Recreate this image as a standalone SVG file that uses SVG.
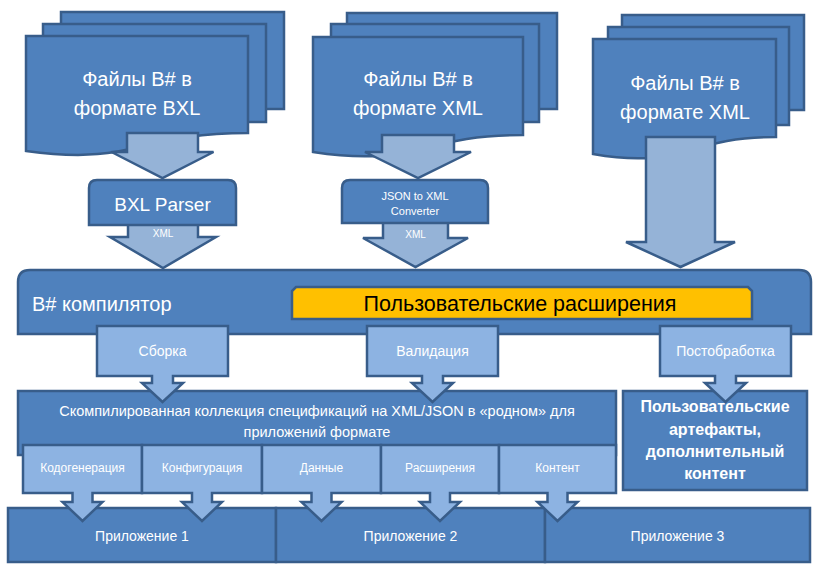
<svg xmlns="http://www.w3.org/2000/svg" width="822" height="576" viewBox="0 0 822 576">
<style>
.dk{fill:#4F81BD;stroke:#385D8A;stroke-width:2.5;stroke-linejoin:miter}
.ar{fill:#95B3D7;stroke:#385D8A;stroke-width:2.5;stroke-linejoin:miter}
.cl{fill:#8DB3E2;stroke:#385D8A;stroke-width:2.5;stroke-linejoin:miter}
.yl{fill:#FFC000;stroke:#385D8A;stroke-width:2.5}
text{font-family:"Liberation Sans",Arial,sans-serif;text-anchor:middle;fill:#fff}
.big{font-size:20px}
.sm{font-size:10px}
.cv{font-size:11px}
.lb{font-size:14px}
.sb{font-size:12px}
.ap{font-size:14px}
</style>
<rect width="822" height="576" fill="#fff"/>
<g id="docs-bxl">
<rect class="dk" x="61" y="12" width="223" height="97"/>
<rect class="dk" x="43" y="24" width="223" height="98"/>
<path class="dk" d="M26,36 H248 V133 C137,133 137,166 26,151 Z"/>
<text class="big" x="137" y="86">Файлы B# в</text>
<text class="big" x="137" y="115">формате BXL</text>
</g>
<g id="docs-xml-1">
<rect class="dk" x="347" y="13" width="210" height="96"/>
<rect class="dk" x="331" y="24" width="208" height="98"/>
<path class="dk" d="M313,37 H523 V135 C418,135 418,168 313,152 Z"/>
<text class="big" x="418" y="86">Файлы B# в</text>
<text class="big" x="418" y="115">формате XML</text>
</g>
<g id="docs-xml-2">
<rect class="dk" x="622" y="15" width="182" height="95"/>
<rect class="dk" x="608" y="27" width="181" height="98"/>
<path class="dk" d="M593,39 H776 V137 C684.5,137 684.5,170 593,154 Z"/>
<text class="big" x="685" y="90">Файлы B# в</text>
<text class="big" x="685" y="119">формате XML</text>
</g>
<g id="connectors">
<path class="ar" d="M127,133 H198 V152 H213.5 L162.5,178 L111.5,152 H127 Z"/>
<path class="ar" d="M128,223 H198 V237 H216 L163,268 L110,237 H128 Z"/>
<path class="ar" d="M382,135 H454 V152 H471 L418,178 L365,152 H382 Z"/>
<path class="ar" d="M383,222 H448 V238 H468 L415.5,267 L363,238 H383 Z"/>
<path class="ar" d="M646,137 H715 V242 H735 L680.5,267 L626,242 H646 Z"/>
<text class="sm" x="163" y="237">XML</text>
<text class="sm" x="415.5" y="238">XML</text>
</g>
<g id="bxl-parser">
<path class="dk" d="M89,225 V188 Q89,180 97,180 H228 Q236,180 236,188 V225 Z"/>
<text x="162.5" y="211" style="font-size:19px">BXL Parser</text>
</g>
<g id="json-converter">
<path class="dk" d="M342,223 V188 Q342,180 350,180 H480 Q488,180 488,188 V223 Z"/>
<text class="cv" x="415" y="200">JSON to XML</text>
<text class="cv" x="415" y="215">Converter</text>
</g>
<g id="compiler">
<path class="dk" d="M18,334 V282 Q18,270 30,270 H799 Q811,270 811,282 V334 Z"/>
<text class="big" x="32" y="311" style="text-anchor:start">B# компилятор</text>
</g>
<g id="extensions">
<path class="yl" d="M292,319 V291 L296,287 H748 L752,291 V319 Z"/>
<text x="520" y="311" style="font-size:21.5px;fill:#000">Пользовательские расширения</text>
</g>
<g id="collection">
<rect class="dk" x="18" y="391" width="598" height="64"/>
<text x="317" y="416" style="font-size:14.5px">Скомпилированная коллекция спецификаций на XML/JSON в «родном» для</text>
<text x="317" y="437" style="font-size:14.5px">приложений формате</text>
</g>
<g id="artifacts">
<rect class="dk" x="623" y="391" width="184" height="99"/>
<text x="715" y="412" style="font-size:16px;font-weight:bold">Пользовательские</text>
<text x="715" y="435" style="font-size:16px;font-weight:bold">артефакты,</text>
<text x="715" y="457" style="font-size:16px;font-weight:bold">дополнительный</text>
<text x="715" y="479" style="font-size:16px;font-weight:bold">контент</text>
</g>
<g id="build">
<path class="cl" d="M97,326 H228 V376 H173 V383 H183 L162.5,402 L142,383 H152 V376 H97 Z"/>
<text class="lb" x="162.5" y="356">Сборка</text>
</g>
<g id="validation">
<path class="cl" d="M367,326 H498 V376 H443 V383 H453 L432.5,402 L412,383 H422 V376 H367 Z"/>
<text class="lb" x="432.5" y="356">Валидация</text>
</g>
<g id="postprocessing">
<path class="cl" d="M660,326 H791 V376 H736 V383 H746 L725.5,402 L705,383 H715 V376 H660 Z"/>
<text class="lb" x="725.5" y="356">Постобработка</text>
</g>
<g id="app1">
<rect class="dk" x="8" y="508" width="268" height="54"/>
<text class="ap" x="142" y="541">Приложение 1</text>
</g>
<g id="app2">
<rect class="dk" x="276" y="508" width="269" height="54"/>
<text class="ap" x="410.5" y="541">Приложение 2</text>
</g>
<g id="app3">
<rect class="dk" x="545" y="508" width="265" height="54"/>
<text class="ap" x="677.5" y="541">Приложение 3</text>
</g>
<g id="codegen">
<path class="cl" d="M23,445 H142 V493 H92.5 V502 H102.5 L82.5,521 L62.5,502 H72.5 V493 H23 Z"/>
<text class="sb" x="82.5" y="472">Кодогенерация</text>
</g>
<g id="config">
<path class="cl" d="M142,445 H262 V493 H212 V502 H222 L202,521 L182,502 H192 V493 H142 Z"/>
<text class="sb" x="202" y="472">Конфигурация</text>
</g>
<g id="data">
<path class="cl" d="M262,445 H381 V493 H331.5 V502 H341.5 L321.5,521 L301.5,502 H311.5 V493 H262 Z"/>
<text class="sb" x="321.5" y="472">Данные</text>
</g>
<g id="ext">
<path class="cl" d="M381,445 H499 V493 H450 V502 H460 L440,521 L420,502 H430 V493 H381 Z"/>
<text class="sb" x="440" y="472">Расширения</text>
</g>
<g id="content">
<path class="cl" d="M499,445 H616 V493 H567.5 V502 H577.5 L557.5,521 L537.5,502 H547.5 V493 H499 Z"/>
<text class="sb" x="557.5" y="472">Контент</text>
</g>
</svg>
